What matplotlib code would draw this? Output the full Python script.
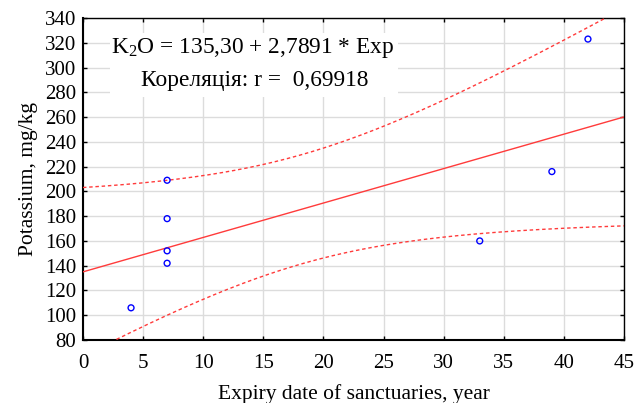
import numpy as np
import matplotlib
matplotlib.use('Agg')
import matplotlib.pyplot as plt
from matplotlib.patches import Rectangle

# data: expiry date (years) vs potassium (mg/kg)
expiry = [4, 7, 7, 7, 7, 33, 39, 42]
potassium = [106, 209, 178, 152, 142, 160, 216, 323]

x_ticks = [0, 5, 10, 15, 20, 25, 30, 35, 40, 45]
y_ticks = [80, 100, 120, 140, 160, 180, 200, 220, 240, 260, 280, 300, 320, 340]

eq_text = 'K$_\\mathregular{2}$O = 135,30 + 2,7891 * Exp'
corr_text = 'Кореляція: r =  0,69918'

plt.rcParams['font.family'] = ['Liberation Serif', 'DejaVu Serif']
plt.rcParams['mathtext.fontset'] = 'custom'
plt.rcParams['mathtext.rm'] = 'Liberation Serif'

x = np.array(expiry, dtype=float)
y = np.array(potassium, dtype=float)

# linear fit + 95% confidence band for the mean
slope, intercept = np.polyfit(x, y, 1)
n = len(x)
resid = y - (intercept + slope * x)
s = np.sqrt(np.sum(resid ** 2) / (n - 2))
sxx = np.sum((x - x.mean()) ** 2)
t95 = 2.4469  # t(0.975, df=6)

xs = np.linspace(0, 45, 300)
fit = intercept + slope * xs
half = t95 * s * np.sqrt(1.0 / n + (xs - x.mean()) ** 2 / sxx)

fig = plt.figure(figsize=(6.43, 4.03), dpi=100)
ax = fig.add_axes([0.129, 0.1563, 0.8415, 0.799])

ax.plot(xs, fit, color='#ff3b3b', lw=1.0, zorder=3)
ax.plot(xs, fit + half, color='#ff3b3b', lw=1.0, ls=(0, (2.5, 2)), zorder=3)
ax.plot(xs, fit - half, color='#ff3b3b', lw=1.0, ls=(0, (2.5, 2)), zorder=3)
ax.scatter(x, y, s=18, facecolors='none', edgecolors='#0000ff', linewidths=1.0, zorder=4)

ax.set_xlim(0, 45)
ax.set_ylim(80, 340)
ax.set_xticks(x_ticks)
ax.set_yticks(y_ticks)
ax.grid(True, color='#dcdcdc', lw=1.0, zorder=0)
ax.set_axisbelow(True)
ax.tick_params(direction='in', length=3, width=1, labelsize=15, pad=5,
               top=True, right=True, colors='black')
ax.tick_params(axis='x', pad=10)

for side in ['left', 'bottom']:
    ax.spines[side].set_linewidth(1.5)
for side in ['top', 'right']:
    ax.spines[side].set_linewidth(1.0)

ax.set_xlabel('Expiry date of sanctuaries, year', fontsize=15.5, labelpad=8)
ax.set_ylabel('Potassium, mg/kg', fontsize=15.5, labelpad=5)

# white box behind the equation
ax.add_patch(Rectangle((0.05, 0.755), 0.532, 0.198, transform=ax.transAxes,
                       facecolor='white', edgecolor='none', zorder=5))
ax.text(0.314, 0.891, eq_text, transform=ax.transAxes, ha='center', va='baseline',
        fontsize=16.8, zorder=6)
ax.text(0.317, 0.789, corr_text, transform=ax.transAxes, ha='center', va='baseline',
        fontsize=16.8, zorder=6)

plt.savefig('out.png', dpi=100)
